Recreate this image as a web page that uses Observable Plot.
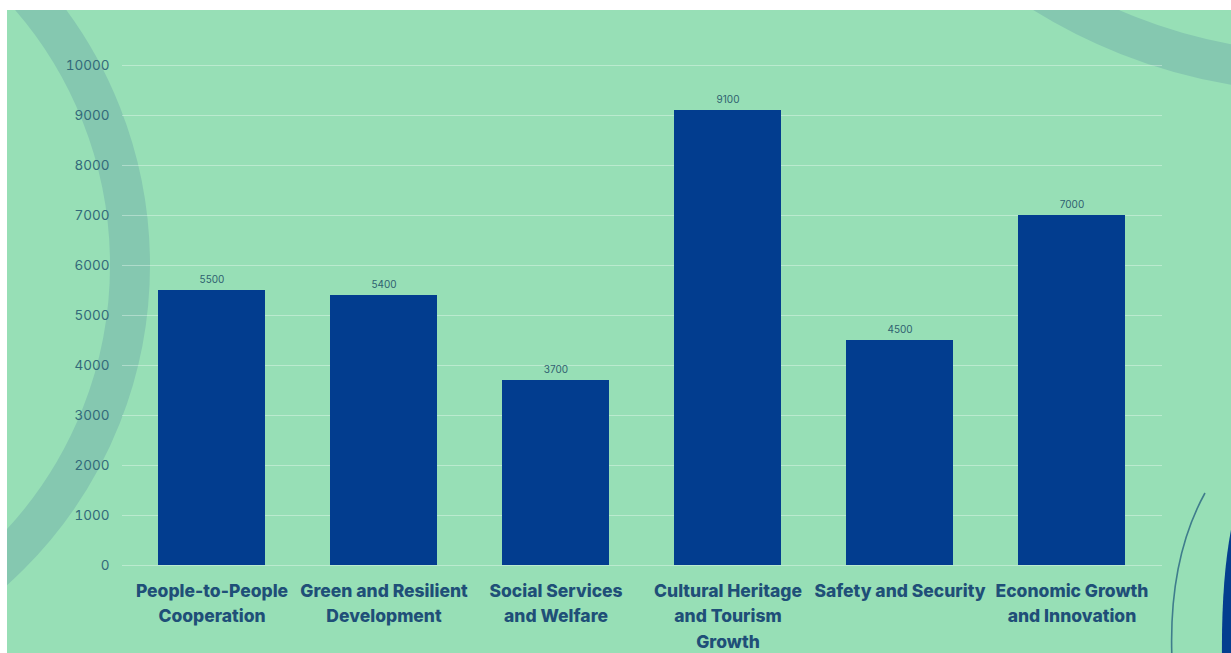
<!DOCTYPE html>
<html>
<head>
<meta charset="utf-8">
<script src="https://cdn.jsdelivr.net/npm/d3@7"></script>
<script src="https://cdn.jsdelivr.net/npm/@observablehq/plot@0.6"></script>
<style>
  html, body { margin: 0; padding: 0; background: #ffffff; width: 1231px; height: 653px; overflow: hidden; }
  #wrap { position: relative; width: 1231px; height: 653px; }
  #bg { position: absolute; left: 0; top: 0; }
  #chart { position: absolute; left: 0; top: 0; }
  #chart svg { background: transparent; }
</style>
</head>
<body>
<div id="wrap">
  <svg id="bg" width="1231" height="653" xmlns="http://www.w3.org/2000/svg">
    <defs>
      <clipPath id="panel"><rect x="7" y="10" width="1224" height="643"/></clipPath>
    </defs>
    <rect x="0" y="0" width="1231" height="653" fill="#ffffff"/>
    <g clip-path="url(#panel)">
      <rect x="7" y="10" width="1224" height="643" fill="#97dfb6"/>
      <circle cx="-280" cy="265" r="410" fill="none" stroke="#85c8b0" stroke-width="40"/>
      <circle cx="1320" cy="-450" r="522" fill="none" stroke="#85c8b0" stroke-width="40"/>
      <path d="M 1205 493 Q 1168 560 1172 660" fill="none" stroke="#3f7d8c" stroke-width="1.6"/>
      <path d="M 1233 520 Q 1221 575 1222 660 L 1240 660 L 1240 520 Z" fill="#033e8f"/>
    </g>
  </svg>
  <div id="chart"></div>
</div>
<script>
const categories = [
  "People-to-People Cooperation",
  "Green and Resilient Development",
  "Social Services and Welfare",
  "Cultural Heritage and Tourism Growth",
  "Safety and Security",
  "Economic Growth and Innovation"
];
const values = [5500, 5400, 3700, 9100, 4500, 7000];
const categoryLabels = [
  "People-to-People\nCooperation",
  "Green and Resilient\nDevelopment",
  "Social Services\nand Welfare",
  "Cultural Heritage\nand Tourism\nGrowth",
  "Safety and Security",
  "Economic Growth\nand Innovation"
];
const yTicks = [0, 1000, 2000, 3000, 4000, 5000, 6000, 7000, 8000, 9000, 10000];

const data = categories.map((c, i) => ({category: c, value: values[i]}));
const labelOf = new Map(categories.map((c, i) => [c, categoryLabels[i]]));

const chart = Plot.plot({
  width: 1231,
  height: 653,
  marginLeft: 122,
  marginRight: 69,
  marginTop: 65,
  marginBottom: 88,
  style: {background: "transparent", fontFamily: "Inter, 'Open Sans', sans-serif"},
  x: {domain: categories, paddingInner: 0.377, paddingOuter: 0.198},
  y: {domain: [0, 10000]},
  marks: [
    Plot.gridY(yTicks, {stroke: "#ffffff", strokeOpacity: 0.35, strokeWidth: 1}),
    Plot.barY(data, {x: "category", y: "value", fill: "#023d8f"}),
    Plot.text(data, {x: "category", y: "value", text: d => String(d.value), dy: -11, fontSize: 10, fill: "#2f5f70"}),
    Plot.axisY(yTicks, {tickSize: 0, tickPadding: 13, tickFormat: d => String(d), fontSize: 13.5, fill: "#336a7a", label: null}),
    Plot.axisX({tickSize: 0, tickPadding: 13, tickFormat: d => labelOf.get(d), fontSize: 17.5, fontWeight: 800, lineHeight: 1.46, fill: "#1f4f78", label: null})
  ]
});
document.getElementById("chart").appendChild(chart);
</script>
</body>
</html>
